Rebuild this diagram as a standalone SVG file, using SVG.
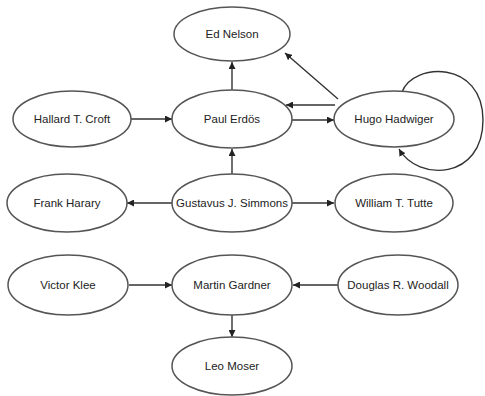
<svg xmlns="http://www.w3.org/2000/svg" width="485" height="396" viewBox="0 0 485 396">
<defs>
<style>
.n ellipse{fill:#fff;stroke:#555;stroke-width:1.5}
.n text{font-family:"Liberation Sans",Arial,sans-serif;font-size:11.5px;fill:#222;text-anchor:middle;dominant-baseline:central}
.e path{fill:none;stroke:#333;stroke-width:1.4;marker-end:url(#ah)}
</style>
<marker id="ah" viewBox="0 0 10 10" refX="10" refY="5" markerWidth="7" markerHeight="7" markerUnits="userSpaceOnUse" orient="auto">
<path d="M0,0 L10,5 L0,10 Z" fill="#222"/>
</marker>
</defs>
<rect width="485" height="396" fill="#fff"/>
<g class="e" id="edges">
<path d="M232,90 L232,62"/>
<path d="M338,99 L285,53"/>
<path d="M335,105 L286,105"/>
<path d="M292,120 L334,120"/>
<path d="M131,119 L172,119"/>
<path d="M232,174 L232,149"/>
<path d="M173,203 L127,203"/>
<path d="M292,203 L334,203"/>
<path d="M129,285 L172,285"/>
<path d="M338,285 L293,285"/>
<path d="M232,315 L232,337"/>
<path d="M402,92 C413,62 483,60 483,120 C483,180 418,182 399,149"/>
</g>
<g class="n" id="ed-nelson"><ellipse cx="232" cy="34" rx="58" ry="27"/><text x="232" y="34">Ed Nelson</text></g>
<g class="n" id="hallard-croft"><ellipse cx="72" cy="119" rx="59" ry="28"/><text x="72" y="119">Hallard T. Croft</text></g>
<g class="n" id="paul-erdos"><ellipse cx="232" cy="119" rx="60" ry="29"/><text x="232" y="119">Paul Erdös</text></g>
<g class="n" id="hugo-hadwiger"><ellipse cx="394" cy="119" rx="60" ry="28"/><text x="394" y="119">Hugo Hadwiger</text></g>
<g class="n" id="frank-harary"><ellipse cx="67" cy="203" rx="60" ry="29"/><text x="67" y="203">Frank Harary</text></g>
<g class="n" id="gustavus-simmons"><ellipse cx="232" cy="203" rx="60" ry="29"/><text x="232" y="203">Gustavus J. Simmons</text></g>
<g class="n" id="william-tutte"><ellipse cx="394" cy="203" rx="59" ry="29"/><text x="394" y="203">William T. Tutte</text></g>
<g class="n" id="victor-klee"><ellipse cx="68" cy="285" rx="60" ry="30"/><text x="68" y="285">Victor Klee</text></g>
<g class="n" id="martin-gardner"><ellipse cx="232" cy="285" rx="60" ry="30"/><text x="232" y="285">Martin Gardner</text></g>
<g class="n" id="douglas-woodall"><ellipse cx="398" cy="285" rx="60" ry="30"/><text x="398" y="285">Douglas R. Woodall</text></g>
<g class="n" id="leo-moser"><ellipse cx="232" cy="366" rx="60" ry="29"/><text x="232" y="366">Leo Moser</text></g>
</svg>
